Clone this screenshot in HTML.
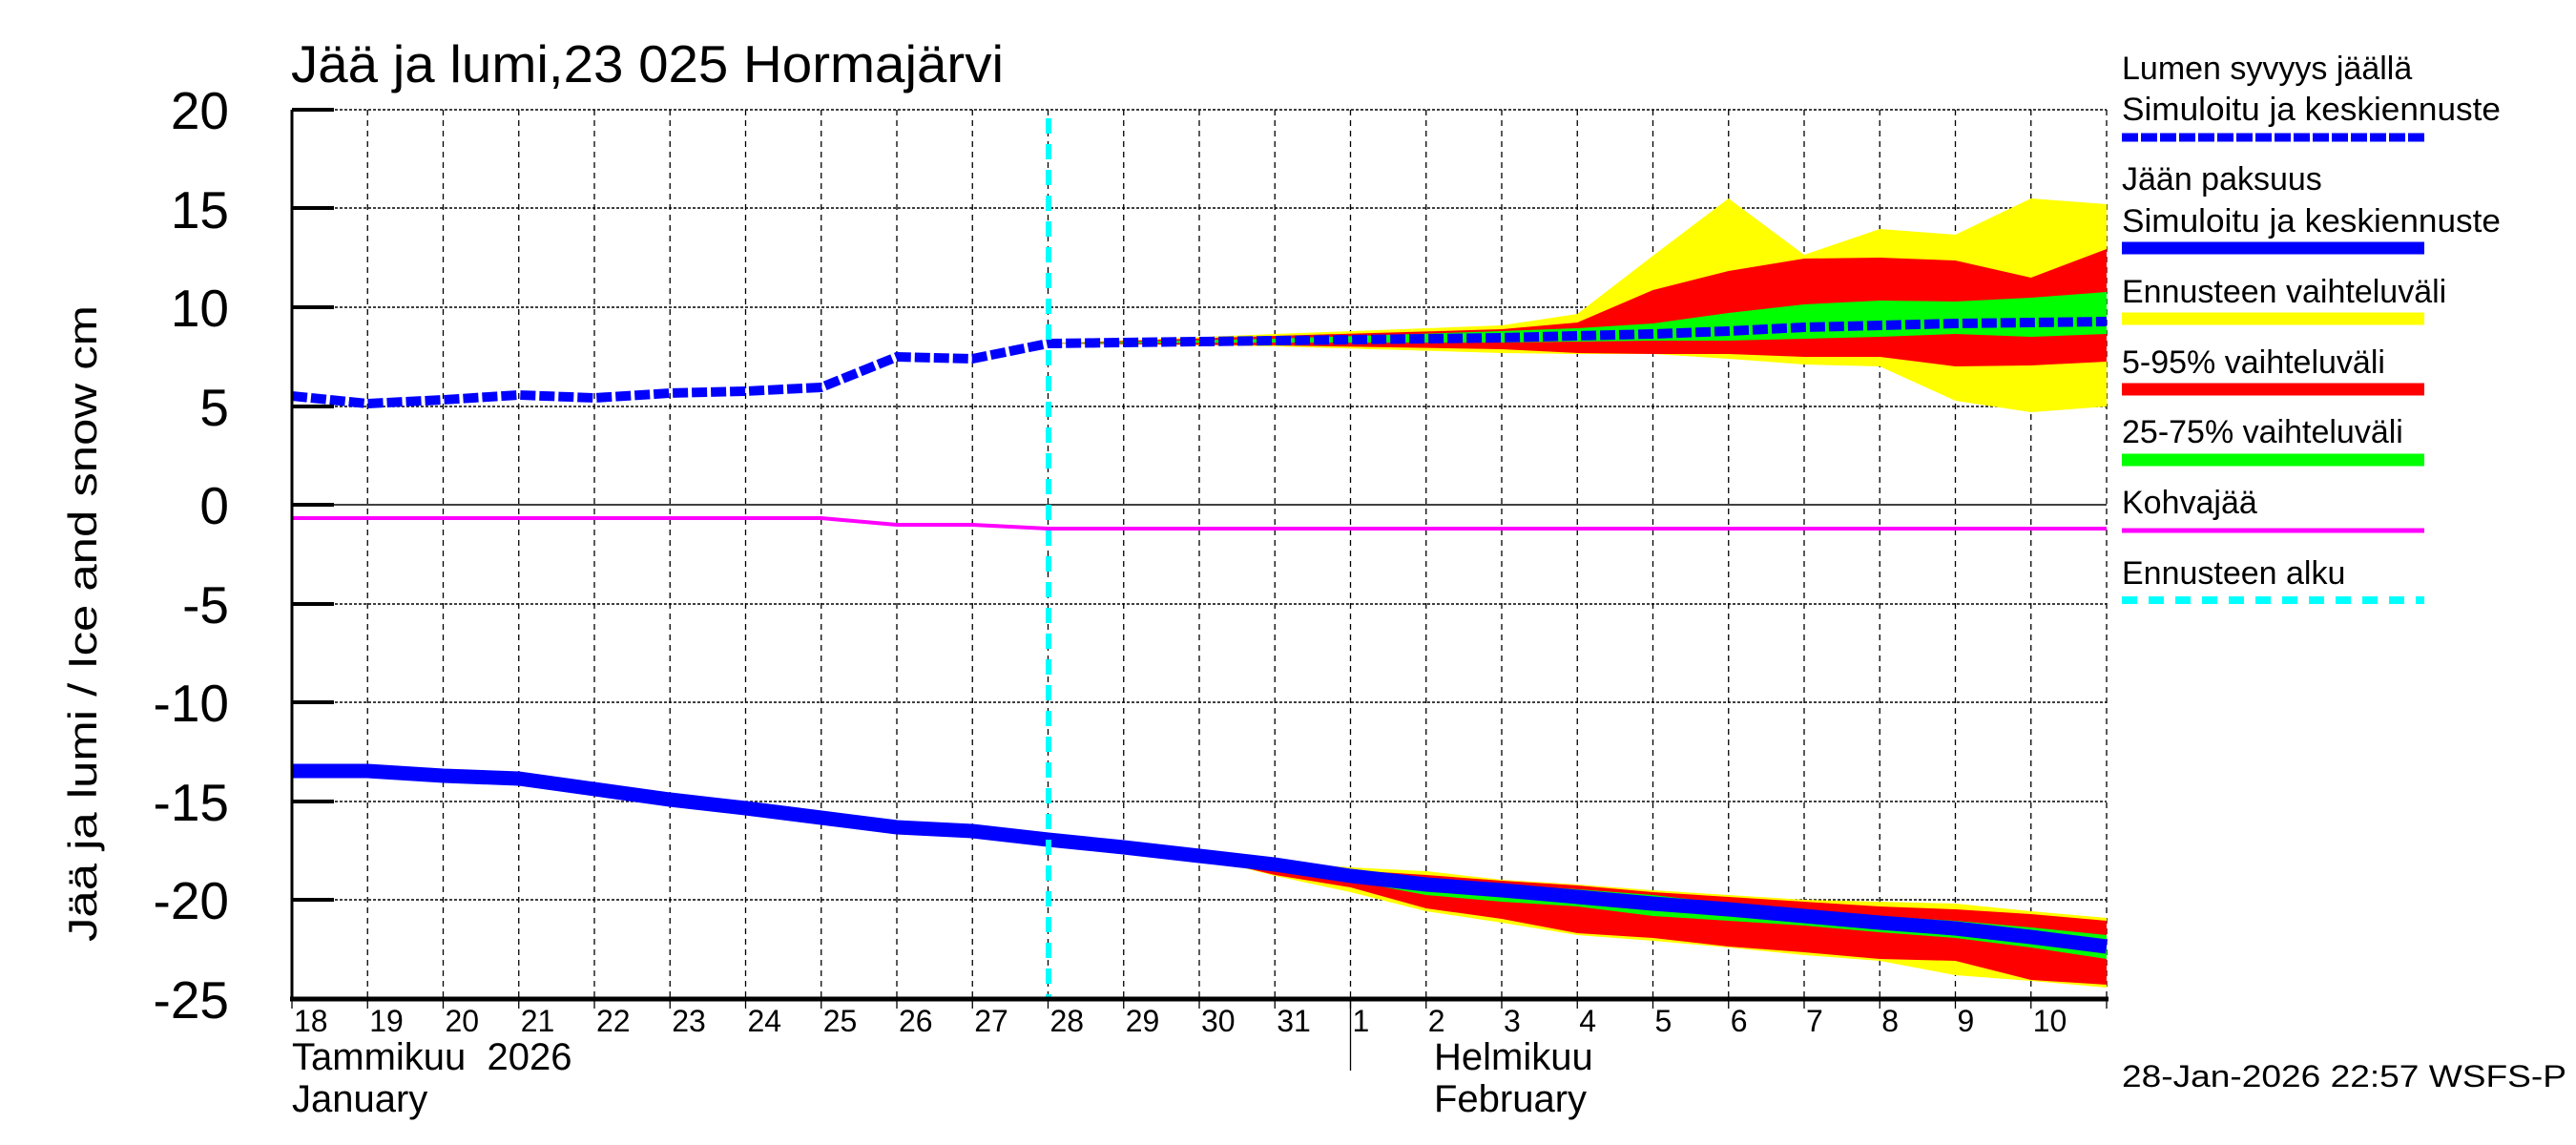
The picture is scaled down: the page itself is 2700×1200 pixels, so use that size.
<!DOCTYPE html>
<html><head><meta charset="utf-8"><style>html,body{margin:0;padding:0;background:#fff}svg{display:block}text{font-family:"Liberation Sans",sans-serif;fill:#000}</style></head>
<body>
<svg id="s" width="2700" height="1200" viewBox="0 0 2700 1200" xmlns="http://www.w3.org/2000/svg">
<g id="grid"></g>
<g id="data"></g>
<g id="axes"></g>
<text x="305" y="86" font-size="55" textLength="747" lengthAdjust="spacingAndGlyphs">Jää ja lumi,23 025 Hormajärvi</text>
<g font-size="55" text-anchor="end">
<text x="240" y="135">20</text><text x="240" y="239">15</text><text x="240" y="342">10</text><text x="240" y="446">5</text><text x="240" y="549">0</text><text x="240" y="653">-5</text><text x="240" y="756">-10</text><text x="240" y="860">-15</text><text x="240" y="963">-20</text><text x="240" y="1067">-25</text>
</g>
<text transform="translate(101,987) rotate(-90)" font-size="42" textLength="667" lengthAdjust="spacingAndGlyphs">Jää ja lumi / Ice and snow    cm</text>
<g font-size="32" id="days"></g>
<text x="306" y="1121" font-size="40" xml:space="preserve">Tammikuu  2026</text>
<text x="306" y="1165" font-size="40">January</text>
<text x="1503" y="1121" font-size="40">Helmikuu</text>
<text x="1503" y="1165" font-size="40">February</text>
<text x="2224" y="1139" font-size="32" textLength="466" lengthAdjust="spacingAndGlyphs">28-Jan-2026 22:57 WSFS-P</text>
<g font-size="34">
<text x="2224" y="83">Lumen syvyys jäällä</text>
<text x="2224" y="126" textLength="397" lengthAdjust="spacingAndGlyphs">Simuloitu ja keskiennuste</text>
<line x1="2224" y1="144" x2="2541" y2="144" stroke="#0000ff" stroke-width="9" stroke-dasharray="17,3"/>
<text x="2224" y="199">Jään paksuus</text>
<text x="2224" y="243" textLength="397" lengthAdjust="spacingAndGlyphs">Simuloitu ja keskiennuste</text>
<line x1="2224" y1="260" x2="2541" y2="260" stroke="#0000ff" stroke-width="13"/>
<text x="2224" y="317">Ennusteen vaihteluväli</text>
<line x1="2224" y1="334" x2="2541" y2="334" stroke="#ffff00" stroke-width="13"/>
<text x="2224" y="391">5-95% vaihteluväli</text>
<line x1="2224" y1="408" x2="2541" y2="408" stroke="#ff0000" stroke-width="13"/>
<text x="2224" y="464">25-75% vaihteluväli</text>
<line x1="2224" y1="482" x2="2541" y2="482" stroke="#00ff00" stroke-width="13"/>
<text x="2224" y="538">Kohvajää</text>
<line x1="2224" y1="556" x2="2541" y2="556" stroke="#ff00ff" stroke-width="5"/>
<text x="2224" y="612">Ennusteen alku</text>
<line x1="2224" y1="629" x2="2541" y2="629" stroke="#00ffff" stroke-width="8" stroke-dasharray="16,12"/>
</g>
</svg>
<script>
var NS="http://www.w3.org/2000/svg";
function X(t){return 306+79.25*t;}
function el(p,n,a){var e=document.createElementNS(NS,n);for(var k in a)e.setAttribute(k,a[k]);document.getElementById(p).appendChild(e);return e;}
for(var t=1;t<=24;t++){el('grid','line',{x1:X(t),y1:115,x2:X(t),y2:1047,stroke:'#000','stroke-width':1.3,'stroke-dasharray':'6,5'});}
[115,218,322,426,633,736,840,943].forEach(function(y){el('grid','line',{x1:306,y1:y,x2:2208,y2:y,stroke:'#000','stroke-width':1.5,'stroke-dasharray':'3,2'});});
el('grid','line',{x1:306,y1:529,x2:2208,y2:529,stroke:'#000','stroke-width':1.5});
function poly(up,lo,t0,col){var p=[];for(var i=0;i<up.length;i++)p.push(X(up[i][0])+','+up[i][1]);for(var i=lo.length-1;i>=0;i--)p.push(X(lo[i][0])+','+lo[i][1]);el('data','polygon',{points:p.join(' '),fill:col});}
function pts(ts,ys){return ts.map(function(t,i){return [t,ys[i]];});}
var ts=[10,13,16,17,18,19,20,21,22,23,24];
poly(pts(ts,[360,350,341,329,268,208,267,240,246,208,214]),pts(ts,[360,363,370,371,371,376,382,384,420,432,426]),0,'#ffff00');
poly(pts(ts,[360,352,345,338,304,284,271,270,273,291,261]),pts(ts,[360,362,366,370,371,371,374,374,384,383,379]),0,'#ff0000');
poly(pts(ts,[360,355,347,344,339,328,319,315,316,312,306]),pts(ts,[360,359,359,358,357,357,355,353,350,353,350]),0,'#00ff00');
var ti=[12,13,14,15,16,17,18,19,20,21,22,23,24];
poly(pts(ti,[897,903,909,913,922,927,933,938,943,945,947,955,962]),pts(ti,[898,918,935,955,967,980,986,993,1001,1007,1022,1028,1035]),0,'#ffff00');
poly(pts(ti,[897,905,912,917,923,928,935,940,945,950,953,958,965]),pts(ti,[898,917,930,952,963,978,983,992,998,1005,1007,1027,1032]),0,'#ff0000');
poly(pts(ti,[897,907,915,922,927,932,938,947,953,960,965,972,980]),pts(ti,[898,912,923,938,945,950,960,965,970,977,983,993,1005]),0,'#00ff00');
function line(ys,attrs){var p=ys.map(function(y,i){return X(i)+','+y;}).join(' ');attrs.points=p;attrs.fill='none';el('data','polyline',attrs);}
line([808,808,813,816,827,838,847,857,867,871,880,888,897,906,918,927,933,940,947,953,960,967,973,982,992],{stroke:'#0000ff','stroke-width':15});
line([415,423,419,414,417,412,410,406,374,376,360,359,358,357,356,355,354,352,350,347,343,341,339,338,337],{stroke:'#0000ff','stroke-width':10,'stroke-dasharray':'16,4'});
el('data','polyline',{points:[X(0)+',543',X(7)+',543',X(8)+',550',X(9)+',550',X(10)+',554',X(24)+',554'].join(' '),fill:'none',stroke:'#ff00ff','stroke-width':4});
el('data','line',{x1:1099,y1:124,x2:1099,y2:1047,stroke:'#00ffff','stroke-width':6,'stroke-dasharray':'16,11'});
el('axes','line',{x1:306,y1:115,x2:306,y2:1049,stroke:'#000','stroke-width':3});
el('axes','line',{x1:304,y1:1047,x2:2210,y2:1047,stroke:'#000','stroke-width':5});
[115,218,322,426,529,633,736,840,943].forEach(function(y){el('axes','line',{x1:306,y1:y,x2:350,y2:y,stroke:'#000','stroke-width':4});});
for(var t=0;t<=24;t++){el('axes','line',{x1:X(t),y1:1047,x2:X(t),y2:1057,stroke:'#000','stroke-width':1.3});}
el('axes','line',{x1:X(14),y1:1047,x2:X(14),y2:1122,stroke:'#000','stroke-width':1.3});
var labs=[18,19,20,21,22,23,24,25,26,27,28,29,30,31,1,2,3,4,5,6,7,8,9,10];
labs.forEach(function(d,i){var e=el('days','text',{x:X(i)+2,y:1081});e.textContent=d;});
</script>
</body></html>
